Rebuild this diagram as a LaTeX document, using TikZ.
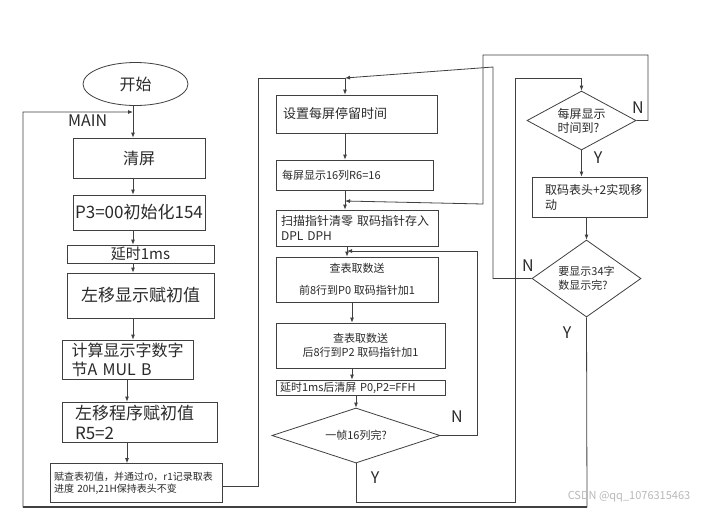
\documentclass[tikz,border=0pt]{standalone}
\usepackage{fontspec}
\setmainfont{Noto Sans CJK SC}
\usetikzlibrary{arrows.meta,shapes.geometric}
\definecolor{ln}{HTML}{404040}
\definecolor{tx}{HTML}{2a2a2a}
\begin{document}
\begin{tikzpicture}[x=1pt,y=-1pt,
  box/.style={draw=ln,line width=0.8pt,inner sep=0pt,fill=white,text=tx},
  dia/.style={diamond,draw=ln,line width=0.8pt,inner sep=0pt,text=tx},
  con/.style={draw=ln,line width=0.8pt},
  arr/.style={con,-{Latex[length=5pt,width=4pt]}},
  lab/.style={text=tx,font=\fontsize{16}{16}\selectfont,inner sep=0pt},
]
\useasboundingbox (0,0) rectangle (720,509);
\fill[white] (0,0) rectangle (720,509);

% left column
\node[box, ellipse, minimum width=105pt, minimum height=43pt, font=\fontsize{16}{16}\selectfont] (start) at (135.5,84) {开始};
\node[box, minimum width=132pt, minimum height=40pt, font=\fontsize{16}{16}\selectfont] (clr) at (139,158) {清屏};
\node[box, minimum width=132pt, minimum height=35pt, font=\fontsize{17}{17}\selectfont] (p3) at (139,212.5) {P3=00初始化154};
\node[box, minimum width=147pt, minimum height=18pt, font=\fontsize{15}{15}\selectfont] (dly) at (140.5,254) {延时1ms};
\node[box, minimum width=147pt, minimum height=45pt, font=\fontsize{17}{17}\selectfont] (shf) at (140.5,295.5) {左移显示赋初值};
\node[box, minimum width=131pt, minimum height=39pt, text width=112pt, align=left, font=\fontsize{16}{19}\selectfont] (calc) at (127.5,359.5) {计算显示字数字\\节A MUL B};
\node[box, minimum width=155pt, minimum height=40pt, text width=129pt, align=left, font=\fontsize{17}{20}\selectfont] (prog) at (139.5,422) {左移程序赋初值\\R5=2};
\node[box, minimum width=172pt, minimum height=39pt, text width=164pt, align=left, font=\fontsize{10}{11.5}\selectfont] (last) at (136,483) {赋查表初值，并通过r0，r1记录取表\\进度 20H,21H保持表头不变};

% middle column
\node[box, minimum width=161pt, minimum height=38pt, text width=147pt, align=left, font=\fontsize{13}{13}\selectfont] (set) at (356.5,114) {设置每屏停留时间};
\node[box, minimum width=157pt, minimum height=30pt, text width=145pt, align=left, font=\fontsize{11}{11}\selectfont] (r6) at (354.5,175) {每屏显示16列R6=16};
\node[box, minimum width=162pt, minimum height=36pt, text width=152pt, align=left, font=\fontsize{12}{15}\selectfont] (scan) at (357,228) {扫描指针清零 取码指针存入\\DPL DPH};
\node[box, minimum width=162pt, minimum height=45pt, align=center, font=\fontsize{11}{13}\selectfont] (lk1) at (357,279.5) {查表取数送\\[9pt]前8行到P0 取码指针加1};
\node[box, minimum width=169pt, minimum height=45pt, align=center, font=\fontsize{11}{14}\selectfont] (lk2) at (360.5,345.5) {查表取数送\\后8行到P2 取码指针加1};
\node[box, minimum width=169pt, minimum height=15pt, text width=161pt, align=left, font=\fontsize{11}{11}\selectfont] (dl2) at (360.5,387.5) {延时1ms后清屏 P0,P2=FFH};
\node[dia, minimum width=168pt, minimum height=55pt, aspect=3, font=\fontsize{11}{11}\selectfont] (d1) at (356,435.5) {一帧16列完?};

% right column
\node[dia, minimum width=109pt, minimum height=59pt, aspect=1.85, align=left, font=\fontsize{12}{14}\selectfont] (d2) at (581.5,120.5) {每屏显示\\时间到?};
\node[box, minimum width=115pt, minimum height=40pt, text width=89pt, align=left, font=\fontsize{12}{15}\selectfont] (mv) at (589.5,197) {取码表头+2实现移\\动};
\node[dia, minimum width=109pt, minimum height=77pt, aspect=1.4, align=left, font=\fontsize{11}{14}\selectfont] (d3) at (586.5,278.5) {要显示34字\\数显示完?};

% junctions
\coordinate (jm) at (133,112);
\coordinate (xl) at (127,0);
\coordinate (j1) at (345,78);
\coordinate (j2) at (345,201);
\coordinate (j3) at (347,251);
\coordinate (xm) at (352,0);
\coordinate (e1) at (258,486);
\coordinate (yb) at (515,502);

% left column flow
\draw[con] (start.south -| jm) -- (jm);
\draw[arr] (jm) -- (clr.north -| jm);
\draw[arr] (clr.south -| jm) -- (p3.north -| jm);
\draw[arr] (p3.south -| jm) -- (dly.north -| jm);
\draw[arr] (dly.south -| jm) -- (shf.north -| jm);
\draw[arr] (shf.south -| jm) -- (calc.north -| jm);
\draw[arr] (calc.south -| xl) -- (prog.north -| xl);
\draw[arr] (prog.south -| xl) -- (last.north -| xl);
\draw[con] (last.east |- e1) -- (e1) |- (j1);

% middle column flow
\draw[arr] (j1) -- (set.north -| j1);
\draw[arr] (set.south -| j1) -- (r6.north -| j1);
\draw[arr] (r6.south -| j2) -- (scan.north -| j2);
\draw[arr] (scan.south -| j3) -- (lk1.north -| j3);
\draw[arr] (lk1.south -| xm) -- (lk2.north -| xm);
\draw[arr] (lk2.south -| xm) -- (dl2.north -| xm);
\draw[arr] (dl2.south -| d1.north) -- (d1.north);
\draw[arr] (d1.east) -- (477,435.5) |- (j3);
\draw[arr] (d1.south) |- (yb) -- (515,78) -| (d2.north);

% right column flow
\draw[arr] (d2.east) -- (648,120.5) -- (648,55) -- (483,55) -- (483,204) -- (j2);
\draw[arr] (d2.south) -- (mv.north -| d2.south);
\draw[arr] (mv.south -| d3.north) -- (d3.north);
\draw[arr] (d3.west) -- (493,278.5) -- (493,67) -- (j1);
\draw[arr] (d3.south) -- (587,507) -- (23,507) -- (23,112) -- (jm);
\draw[con, line width=1.6pt] (587,507) -- (23,507);

% labels
\node[lab, anchor=west] (mainl) at (68,121) {MAIN};
\node[lab] (n1) at (457,417) {N};
\node[lab] (y1) at (375,478) {Y};
\node[lab] (n2) at (638,108) {N};
\node[lab] (y2) at (598,158) {Y};
\node[lab] (n3) at (528,266) {N};
\node[lab] (y3) at (567,333) {Y};
\node[text=gray!55, font=\fontsize{11}{11}\selectfont, inner sep=0pt] (wm) at (629,497) {CSDN @qq\_1076315463};
\end{tikzpicture}
\end{document}
